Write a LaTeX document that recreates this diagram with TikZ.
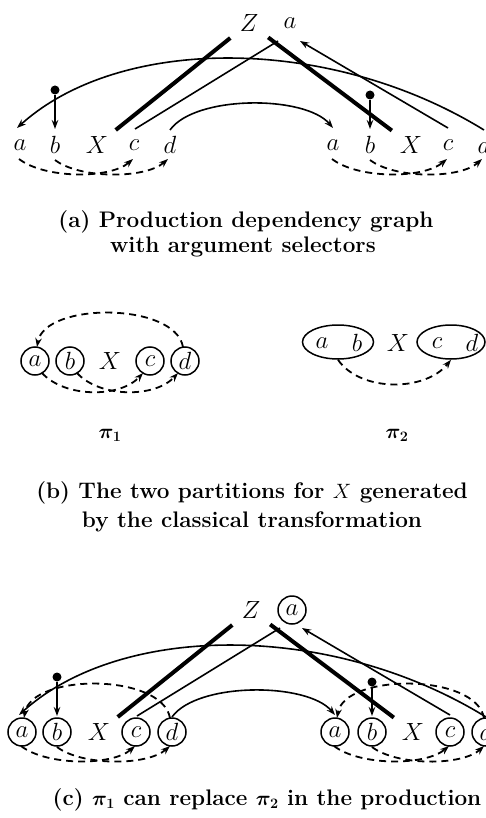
\documentclass[tikz,border=0pt]{standalone}
\usepackage{bm}
\usetikzlibrary{arrows.meta,calc,shapes.geometric}
\tikzset{
  lt/.style={circle, minimum size=28pt, inner sep=0pt, font=\fontsize{24}{24}\selectfont},
  ltc/.style={lt, draw, line width=1.5pt},
  thinl/.style={line width=1.6pt},
  thickl/.style={line width=4pt},
  dsh/.style={line width=1.8pt, dash pattern=on 7pt off 5pt},
  arr/.style={-{Stealth[length=9pt,width=6.5pt]}},
  dotn/.style={circle, fill, minimum size=9pt, inner sep=0pt},
  captxt/.style={font=\fontsize{22.5}{26}\selectfont\bfseries},
  pil/.style={font=\fontsize{21}{21}\selectfont\boldmath}
}
\newcommand\prodpanel[2]{%
  \node[lt] (#1Z) at (249,23) {$Z$};
  \node[#2] (#1aZ) at (290,23) {$a$};
  \node[#2] (#1La) at (20,145) {$a$};
  \node[#2] (#1Lb) at (55,145) {$b$};
  \node[lt] (#1LX) at (97,145) {$X$};
  \node[#2] (#1Lc) at (134,145) {$c$};
  \node[#2] (#1Ld) at (170,145) {$d$};
  \node[#2] (#1Ra) at (333,145) {$a$};
  \node[#2] (#1Rb) at (370,145) {$b$};
  \node[lt] (#1RX) at (411,145) {$X$};
  \node[#2] (#1Rc) at (448,145) {$c$};
  \node[#2] (#1Rd) at (484,145) {$d$};
  % tree edges
  \draw[thickl, shorten <=24pt, shorten >=24pt] (#1Z.center) -- (#1LX.center);
  \draw[thickl, shorten <=24pt, shorten >=24pt] (#1Z.center) -- (#1RX.center);
  % dependencies
  \draw[thinl] ($(#1Lc)+(1,-16)$) -- ($(#1aZ)+(-12,18)$);
  \draw[thinl,arr] ($(#1Rc)+(0,-17)$) -- ($(#1aZ)+(10,18)$);
  \draw[thinl,arr] ($(#1Rd)+(0,-15)$) .. controls (330,35) and (120,35) .. ($(#1La)+(-3,-17)$);
  \draw[thinl,arr] ($(#1Ld)+(0,-15)$) .. controls (195,95) and (305,95) .. ($(#1Ra)+(0,-17)$);
  % argument selectors
  \node[dotn] (#1sL) at (55,90) {};
  \node[dotn] (#1sR) at (370,95) {};
  \draw[thinl,arr] (#1sL) -- ($(#1Lb)+(0,-16)$);
  \draw[thinl,arr] (#1sR) -- ($(#1Rb)+(0,-16)$);
  % partition dependencies (bottom)
  \draw[dsh,arr] ($(#1La)+(-1,14)$) .. controls (45,179) and (110,179) .. ($(#1Lc)+(-1,14)$);
  \draw[dsh,arr] ($(#1Lb)+(0,15)$) .. controls (80,179) and (145,179) .. ($(#1Ld)+(-2,14)$);
  \draw[dsh,arr] ($(#1Ra)+(-1,14)$) .. controls (358,179) and (423,179) .. ($(#1Rc)+(-1,14)$);
  \draw[dsh,arr] ($(#1Rb)+(0,15)$) .. controls (395,179) and (460,179) .. ($(#1Rd)+(-2,14)$);
}
\begin{document}
\begin{tikzpicture}[x=1pt,y=-1pt]
\useasboundingbox (0,0) rectangle (485,818);
% ---------- (a)
\begin{scope}
  \prodpanel{A}{lt}
\end{scope}
\node[captxt] (capa1) at (246,222) {(a) Production dependency graph};
\node[captxt] (capa2) at (243,247) {with argument selectors};
% ---------- (b) pi1
\node[ltc] (pa) at (35,361) {$a$};
\node[ltc] (pb) at (70,361) {$b$};
\node[lt]  (pX) at (110,361) {$X$};
\node[ltc] (pc) at (150,361) {$c$};
\node[ltc] (pd) at (185,361) {$d$};
\draw[dsh,arr] ($(pd)+(-2,-14)$) .. controls (175,302) and (45,302) .. ($(pa)+(2,-14)$);
\draw[dsh,arr] ($(pa)+(7,12)$) .. controls (65,398) and (120,398) .. ($(pc)+(-7,12)$);
\draw[dsh,arr] ($(pb)+(7,12)$) .. controls (100,398) and (155,398) .. ($(pd)+(-7,12)$);
% ---------- (b) pi2
\node[lt] (qa) at (322,343) {$a$};
\node[lt] (qb) at (357,343) {$b$};
\node[lt] (qX) at (398,343) {$X$};
\node[lt] (qc) at (437,343) {$c$};
\node[lt] (qd) at (472,343) {$d$};
\node[ellipse, draw, line width=1.5pt, minimum width=71pt, minimum height=34pt, inner sep=0pt] (e1) at (338,342) {};
\node[ellipse, draw, line width=1.5pt, minimum width=68pt, minimum height=34pt, inner sep=0pt] (e2) at (451,342) {};
\draw[dsh,arr] (e1.south) .. controls (360,392) and (425,392) .. (e2.south);
\node[pil] (pi1) at (110,435) {$\pi_1$};
\node[pil] (pi2) at (397,435) {$\pi_2$};
\node[captxt] (capb1) at (252,493) {(b) The two partitions for $X$ generated};
\node[captxt] (capb2) at (252,522) {by the classical transformation};
% ---------- (c)
\begin{scope}[shift={(2,587)}]
  \prodpanel{C}{ltc}
  \draw[dsh,arr] ($(CLd)+(-2,-14)$) .. controls (160,86) and (30,86) .. ($(CLa)+(2,-14)$);
  \draw[dsh,arr] ($(CRd)+(-2,-14)$) .. controls (474,86) and (343,86) .. ($(CRa)+(2,-14)$);
\end{scope}
\node[captxt] (capc) at (267,800) {(c) $\bm{\pi}_{\bm{1}}$ can replace $\bm{\pi}_{\bm{2}}$ in the production};
\end{tikzpicture}
\end{document}
